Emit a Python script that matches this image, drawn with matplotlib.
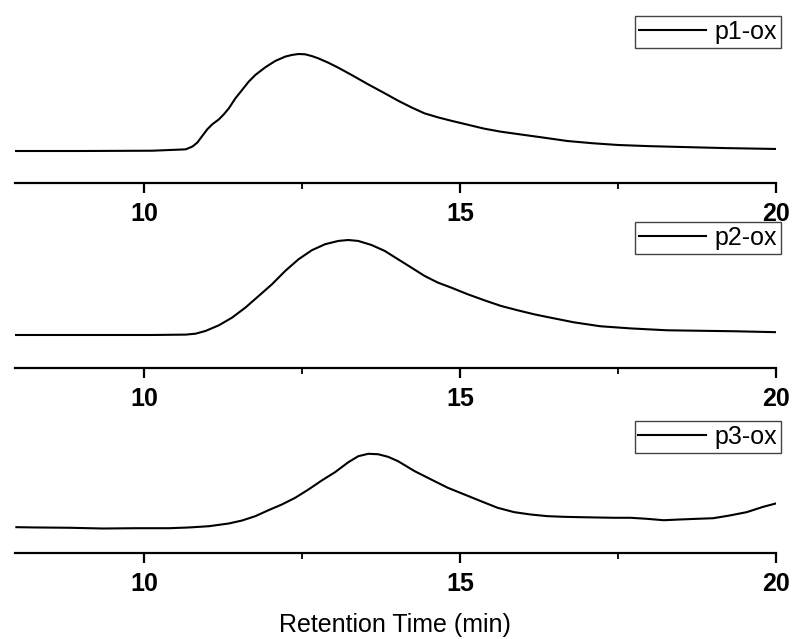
import numpy as np
import matplotlib.pyplot as plt
from matplotlib.ticker import MultipleLocator

plt.rcParams['font.family'] = ['Liberation Sans', 'DejaVu Sans']

# retention time (min) and normalised detector signal
t1 = [7.95, 9.0, 10.126, 10.652, 10.757, 10.836, 10.915, 10.994, 11.073, 11.178,
      11.257, 11.336, 11.44, 11.546, 11.651, 11.756, 11.914, 12.071, 12.229,
      12.334, 12.44, 12.545, 12.65, 12.755, 12.913, 13.07, 13.281, 13.544, 13.806,
      14.017, 14.227, 14.437, 14.648, 14.858, 15.121, 15.384, 15.647, 15.91, 16.3,
      16.7, 17.1, 17.5, 18.0, 18.53, 19.2, 20.0]
p1 = [0.0, 0.0, 0.003, 0.017, 0.045, 0.086, 0.155, 0.223, 0.275, 0.326,
      0.378, 0.44, 0.543, 0.629, 0.715, 0.784, 0.863, 0.928, 0.973,
      0.99, 1.0, 0.997, 0.979, 0.955, 0.91, 0.859, 0.784, 0.687, 0.595,
      0.519, 0.45, 0.388, 0.347, 0.312, 0.271, 0.23, 0.199, 0.175, 0.14,
      0.103, 0.08, 0.062, 0.05, 0.041, 0.03, 0.021]

t2 = [7.95, 9.0, 10.126, 10.652, 10.81, 10.967, 11.178, 11.388, 11.598, 11.809,
      12.019, 12.229, 12.44, 12.65, 12.86, 13.07, 13.229, 13.386, 13.596, 13.806,
      14.017, 14.227, 14.437, 14.648, 14.858, 15.121, 15.384, 15.647, 15.91,
      16.173, 16.383, 16.8, 17.22, 17.7, 18.28, 19.32, 20.0]
p2 = [0.0, 0.0, 0.0, 0.004, 0.014, 0.043, 0.103, 0.185, 0.291, 0.415,
      0.539, 0.681, 0.805, 0.901, 0.965, 1.0, 1.01, 1.0, 0.957, 0.894,
      0.805, 0.717, 0.628, 0.557, 0.504, 0.433, 0.369, 0.309, 0.263,
      0.22, 0.191, 0.135, 0.093, 0.07, 0.05, 0.04, 0.03]

t3 = [7.97, 8.286, 8.81, 9.338, 9.863, 10.39, 10.705, 11.02, 11.336, 11.546,
      11.756, 11.966, 12.177, 12.387, 12.597, 12.808, 13.018, 13.229, 13.386,
      13.544, 13.702, 13.86, 14.017, 14.28, 14.543, 14.806, 15.068, 15.331,
      15.594, 15.857, 16.12, 16.383, 16.645, 16.908, 17.172, 17.434, 17.697,
      17.96, 18.222, 18.486, 18.75, 19.01, 19.27, 19.54, 19.8, 20.0]
p3 = [0.011, 0.007, 0.003, -0.007, -0.003, -0.003, 0.007, 0.024, 0.061, 0.101,
      0.16, 0.241, 0.318, 0.408, 0.52, 0.642, 0.754, 0.889, 0.97,
      1.003, 0.997, 0.962, 0.903, 0.768, 0.655, 0.543, 0.453, 0.362,
      0.273, 0.214, 0.182, 0.16, 0.151, 0.146, 0.142, 0.138, 0.138,
      0.124, 0.105, 0.115, 0.124, 0.132, 0.169, 0.214, 0.286, 0.331]

labels = ['p1-ox', 'p2-ox', 'p3-ox']

fig = plt.figure(figsize=(7.94, 6.39), dpi=100)

# panel boxes (figure fraction) and y ranges
boxes = [[0.019, 0.7136, 0.958, 0.2708],
         [0.019, 0.4241, 0.958, 0.263],
         [0.019, 0.1346, 0.958, 0.2394]]
ylims = [(-0.330, 1.454), (-0.351, 1.436), (-0.338, 1.73)]
leg_tops = [16, 222, 421]

for i, (t, p) in enumerate([(t1, p1), (t2, p2), (t3, p3)]):
    ax = fig.add_axes(boxes[i], zorder=i + 1)
    ax.patch.set_visible(False)
    ax.plot(t, p, color='black', lw=1.5, label=labels[i])
    ax.set_xlim(7.95, 20)
    ax.set_ylim(*ylims[i])
    for s in ['top', 'left', 'right']:
        ax.spines[s].set_visible(False)
    ax.spines['bottom'].set_linewidth(1.6)
    ax.set_yticks([])
    ax.xaxis.set_major_locator(MultipleLocator(5))
    ax.xaxis.set_minor_locator(MultipleLocator(2.5))
    ax.tick_params(axis='x', which='major', length=7, width=1.6, pad=7,
                   labelsize=18)
    ax.tick_params(axis='x', which='minor', length=4, width=1.3)
    for lbl in ax.get_xticklabels():
        lbl.set_fontweight('bold')
    ax.legend(loc='upper right',
              bbox_to_anchor=(781 / 794, 1 - leg_tops[i] / 639),
              bbox_transform=fig.transFigure,
              fontsize=18, frameon=True, fancybox=False, framealpha=1,
              edgecolor='#444444', handlelength=2.7, handletextpad=0.35,
              borderpad=0.15, borderaxespad=0)
    if i == 2:
        ax.set_xlabel('Retention Time (min)', fontsize=18, labelpad=12)

fig.savefig('out.png', dpi=100)
